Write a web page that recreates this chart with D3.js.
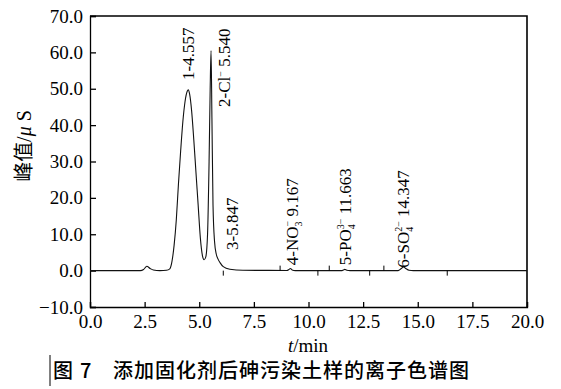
<!DOCTYPE html>
<html>
<head>
<meta charset="utf-8">
<script src="https://cdn.jsdelivr.net/npm/d3@7"></script>
<style>
  body { margin: 0; background: #fff; }
  svg { display: block; }
  .axis text { font-family: "Liberation Serif", "Times New Roman", serif; font-size: 19px; fill: #000; }
  .axis path, .axis line { stroke: #000; stroke-width: 1.3; }
  .peak-label { font-family: "Liberation Serif", "Times New Roman", serif; font-size: 17px; fill: #000; }
</style>
</head>
<body>
<svg id="chart" width="561" height="389"></svg>
<script>
// chromatogram trace, [time (min), peak value (uS)]
const times = [0, 2.3, 2.45, 2.6, 2.75, 2.9, 3.2, 3.5, 3.65, 3.75, 3.85, 3.95, 4.05, 4.15, 4.25, 4.35, 4.45, 4.5,
  4.56, 4.65, 4.75, 4.85, 4.95, 5.05, 5.15, 5.22, 5.3, 5.38, 5.45, 5.5, 5.54, 5.58, 5.63, 5.7, 5.78, 5.85, 5.95,
  6.1, 6.4, 7.0, 9.0, 9.1, 9.17, 9.25, 9.4, 11.5, 11.6, 11.66, 11.75, 11.9, 14.1, 14.25, 14.35, 14.45, 14.6, 14.8, 20];
const values = [0, 0, 0.3, 1.2, 0.6, 0.15, 0, 0.1, 0.5, 2.5, 7, 14, 24, 33, 41, 46.5, 49.3, 49.7,
  48.5, 44, 36, 27, 18, 9, 4, 3, 3.8, 10, 30, 50, 60.5, 42, 18, 8, 4.5, 3.3, 2.2,
  1.1, 0.4, 0.1, 0.05, 0.3, 0.6, 0.2, 0, 0, 0.2, 0.35, 0.1, 0, 0, 0.6, 1.0, 0.6, 0.1, 0, 0];

// peak annotations: retention time and the value where the label starts
const peakTimes = [4.5, 5.54, 5.847, 9.167, 11.663, 14.347];
const labelStart = [52.4, 45, 5.7, 1.5, 1.5, 0.8];

// integration markers on baseline
const markUp = [8.7, 10.95, 13.45];
const markDown = [6.1, 10.43, 12.8, 16.35];

const xTicks = [0, 2.5, 5, 7.5, 10, 12.5, 15, 17.5, 20];
const yTicks = [-10, 0, 10, 20, 30, 40, 50, 60, 70];

const margin = {top: 16, right: 34, bottom: 82, left: 90};
const width = 561 - margin.left - margin.right;
const height = 389 - margin.top - margin.bottom;

const svg = d3.select("#chart");
const g = svg.append("g")
  .attr("transform", `translate(${margin.left},${margin.top})`);

const x = d3.scaleLinear().domain([0, 20]).range([0, width]);
const y = d3.scaleLinear().domain([-10, 70]).range([height, 0]);

const fmt = d => (d < 0 ? "\u2212" : "") + Math.abs(d).toFixed(1);

g.append("g")
  .attr("class", "axis")
  .attr("transform", `translate(0,${height})`)
  .call(d3.axisBottom(x).tickValues(xTicks).tickFormat(fmt).tickSize(-5).tickPadding(8));

g.append("g")
  .attr("class", "axis")
  .call(d3.axisLeft(y).tickValues(yTicks).tickFormat(fmt).tickSize(-6).tickPadding(7));

// frame (top and right)
g.append("path")
  .attr("d", `M0,0H${width}V${height}`)
  .attr("fill", "none")
  .attr("stroke", "#000")
  .attr("stroke-width", 1.6);

const points = times.map((t, i) => [t, values[i]]);

const line = d3.line()
  .x(d => x(d[0]))
  .y(d => y(d[1]))
  .curve(d3.curveMonotoneX);

g.append("path")
  .datum(points)
  .attr("fill", "none")
  .attr("stroke", "#111")
  .attr("stroke-width", 1.1)
  .attr("d", line);

// baseline markers
g.selectAll(".mk-up")
  .data(markUp)
  .enter()
  .append("line")
  .attr("x1", d => x(d)).attr("x2", d => x(d))
  .attr("y1", y(0) - 5).attr("y2", y(0))
  .attr("stroke", "#000");

g.selectAll(".mk-down")
  .data(markDown)
  .enter()
  .append("line")
  .attr("x1", d => x(d)).attr("x2", d => x(d))
  .attr("y1", y(0)).attr("y2", y(0) + 5)
  .attr("stroke", "#000");

// peak labels: parts are [string, kind, stacked superscript]
const labelParts = [
  [["1-4.557", "n"]],
  [["2-Cl", "n"], ["\u2212", "sup"], [" 5.540", "n"]],
  [["3-5.847", "n"]],
  [["4-NO", "n"], ["3", "sub", "\u2212"], [" 9.167", "n"]],
  [["5-PO", "n"], ["4", "sub", "3\u2212"], [" 11.663", "n"]],
  [["6-SO", "n"], ["4", "sub", "2\u2212"], [" 14.347", "n"]]
];
// horizontal shift of a label from its peak (px)
const labelDx = [0, 13, 14, 2, 0, 0];

labelParts.forEach((parts, i) => {
  const px = x(peakTimes[i]) + labelDx[i];
  const py = y(labelStart[i]);
  const text = g.append("text")
    .attr("class", "peak-label")
    .attr("transform", `translate(${px},${py}) rotate(-90)`)
    .attr("dy", "0.35em");
  parts.forEach(p => {
    if (p[1] === "n") {
      text.append("tspan").text(p[0]);
    } else if (p[1] === "sup") {
      text.append("tspan").attr("font-size", "10px").attr("baseline-shift", "6").text(p[0]);
    } else {
      text.append("tspan").attr("font-size", "10px").attr("baseline-shift", "-4").text(p[0]);
      if (p[2]) {
        const w = 5;
        text.append("tspan").attr("font-size", "10px").attr("dx", -w).attr("baseline-shift", "7").text(p[2]);
      }
    }
  });
});

// axis titles
svg.append("text")
  .attr("transform", `translate(31,146) rotate(-90)`)
  .attr("text-anchor", "middle")
  .style("font-size", "20px")
  .call(t => {
    t.append("tspan").style("font-family", "'Noto Sans CJK SC'").text("峰值");
    t.append("tspan").style("font-family", "'Liberation Serif', serif").text("/");
    t.append("tspan").style("font-family", "'Liberation Serif', serif").style("font-style", "italic").text("\u03bc");
    t.append("tspan").style("font-family", "'Liberation Serif', serif").text(" S");
  });

svg.append("text")
  .attr("x", 308)
  .attr("y", 352)
  .attr("text-anchor", "middle")
  .style("font-family", "'Liberation Serif', serif")
  .style("font-size", "19px")
  .call(t => {
    t.append("tspan").style("font-style", "italic").text("t");
    t.append("tspan").text("/min");
  });

// caption
svg.append("line")
  .attr("x1", 50).attr("x2", 50)
  .attr("y1", 355).attr("y2", 386)
  .attr("stroke", "#000");

svg.append("text")
  .attr("x", 53)
  .attr("y", 378)
  .style("font-family", "'Noto Sans CJK SC'")
  .style("font-size", "20px")
  .style("font-weight", 500)
  .text("图");

svg.append("text")
  .attr("x", 80)
  .attr("y", 378)
  .style("font-family", "'Noto Sans CJK SC'")
  .style("font-size", "20px")
  .style("font-weight", 500)
  .text("7");

svg.append("text")
  .attr("x", 113)
  .attr("y", 378)
  .style("font-family", "'Noto Sans CJK SC'")
  .style("font-size", "20px")
  .style("font-weight", 500)
  .style("letter-spacing", "1px")
  .text("添加固化剂后砷污染土样的离子色谱图");
</script>
</body>
</html>
